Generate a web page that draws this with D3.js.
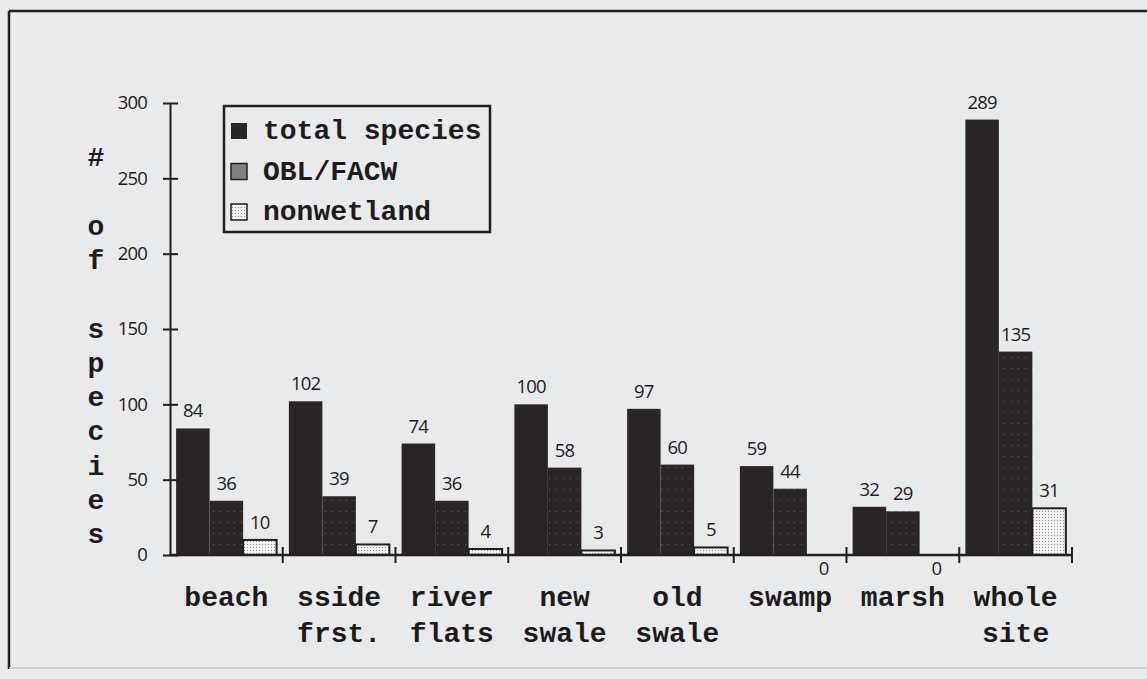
<!DOCTYPE html>
<html>
<head>
<meta charset="utf-8">
<script src="https://cdn.jsdelivr.net/npm/d3@7"></script>
<style>
    body { margin: 0; background: #e9eaec; }
    svg { display: block; }
    .mono { font-family: "Liberation Mono", monospace; font-weight: bold; fill: #1f1b1c; }
    .num { font-family: "Open Sans", sans-serif; fill: #1f1b1c; }
</style>
</head>
<body>
<svg id="chart"></svg>
<script>
// data
const categories = ["beach", "sside frst.", "river flats", "new swale", "old swale", "swamp", "marsh", "whole site"];
const series = ["total species", "OBL/FACW", "nonwetland"];
const totalSpecies = [84, 102, 74, 100, 97, 59, 32, 289];
const oblFacw = [36, 39, 36, 58, 60, 44, 29, 135];
const nonwetland = [10, 7, 4, 3, 5, 0, 0, 31];
const yTicks = [0, 50, 100, 150, 200, 250, 300];
const yTitle = "# of species";

function init() {
    const width = 1147;
    const height = 679;
    const ink = "#231f20";

    const svg = d3.select("#chart")
        .attr("width", width)
        .attr("height", height);

    //patterns for the bar fills
    const defs = svg.append("defs");
    const obl = defs.append("pattern")
        .attr("id", "obl").attr("patternUnits", "userSpaceOnUse")
        .attr("width", 7).attr("height", 11);
    obl.append("rect").attr("width", 7).attr("height", 11).attr("fill", "#2a2527");
    obl.append("rect").attr("x", 3).attr("y", 5).attr("width", 1).attr("height", 1).attr("fill", "#6d6a6b");

    const nonw = defs.append("pattern")
        .attr("id", "nonw").attr("patternUnits", "userSpaceOnUse")
        .attr("width", 3).attr("height", 3);
    nonw.append("rect").attr("width", 3).attr("height", 3).attr("fill", "#f2f2f2");
    nonw.append("rect").attr("x", 1).attr("y", 1).attr("width", 1).attr("height", 1).attr("fill", "#8a8a8a");

    const check = defs.append("pattern")
        .attr("id", "check").attr("patternUnits", "userSpaceOnUse")
        .attr("width", 2).attr("height", 2);
    check.append("rect").attr("width", 2).attr("height", 2).attr("fill", "#4a4648");
    check.append("rect").attr("width", 1).attr("height", 1).attr("fill", "#b8b8b8");
    check.append("rect").attr("x", 1).attr("y", 1).attr("width", 1).attr("height", 1).attr("fill", "#b8b8b8");

    const fills = ["#2a2527", "url(#obl)", "url(#nonw)"];

    //outer frame of the scan
    svg.append("line").attr("x1", 9).attr("x2", width).attr("y1", 11).attr("y2", 11)
        .attr("stroke", ink).attr("stroke-width", 2.5);
    svg.append("line").attr("x1", 9).attr("x2", 9).attr("y1", 11).attr("y2", 669)
        .attr("stroke", ink).attr("stroke-width", 2.5);
    svg.append("line").attr("x1", 9).attr("x2", width).attr("y1", 668).attr("y2", 668)
        .attr("stroke", "#c9cacc").attr("stroke-width", 1.5);

    //scales
    const scaleY = d3.scaleLinear().domain([0, 300]).range([555, 103]);
    const scaleX = d3.scaleBand().domain(categories).range([170, 1072]);
    const scaleS = d3.scaleBand().domain(series).range([0, scaleX.bandwidth()])
        .paddingInner(0).paddingOuter(0.183);

    const values = [totalSpecies, oblFacw, nonwetland];
    const cells = [];
    categories.forEach((c, i) => {
        series.forEach((s, j) => cells.push({ cat: c, ser: s, j: j, v: values[j][i] }));
    });

    //bars
    svg.append("g").selectAll("rect").data(cells.filter(d => d.v > 0)).enter()
        .append("rect")
        .attr("x", d => scaleX(d.cat) + scaleS(d.ser))
        .attr("y", d => scaleY(d.v))
        .attr("width", scaleS.bandwidth())
        .attr("height", d => scaleY(0) - scaleY(d.v))
        .attr("fill", d => fills[d.j])
        .attr("stroke", d => d.j == 2 ? ink : "none")
        .attr("stroke-width", 2);

    //value labels (zero values sit just under the baseline)
    svg.append("g").selectAll("text").data(cells).enter()
        .append("text")
        .attr("class", "num")
        .attr("x", d => scaleX(d.cat) + scaleS(d.ser) + scaleS.bandwidth() / 2)
        .attr("y", d => d.v > 0 ? scaleY(d.v) - 11 : scaleY(0) + 20)
        .attr("text-anchor", "middle")
        .attr("font-size", "18.5px")
        .attr("font-weight", 500)
        .attr("letter-spacing", "-0.8px")
        .text(d => d.v);

    //y axis with ticks crossing the line
    const yAxis = d3.axisLeft(scaleY).tickValues(yTicks).tickSize(7).tickSizeOuter(0).tickPadding(16);
    const gy = svg.append("g")
        .attr("transform", "translate(170,0)")
        .call(yAxis);
    gy.select(".domain").attr("stroke", ink).attr("stroke-width", 2);
    gy.selectAll(".tick line").attr("x1", 8).attr("stroke", ink).attr("stroke-width", 2);
    gy.selectAll(".tick text")
        .attr("class", "num")
        .attr("font-size", "18.5px")
        .attr("font-weight", 500)
        .attr("letter-spacing", "-0.8px")
        .attr("fill", ink);

    //x axis baseline and ticks at category boundaries
    svg.append("line")
        .attr("x1", scaleX.range()[0]).attr("x2", scaleX.range()[1])
        .attr("y1", scaleY(0)).attr("y2", scaleY(0))
        .attr("stroke", ink).attr("stroke-width", 2.5);
    svg.append("g").selectAll("line").data(categories).enter()
        .append("line")
        .attr("x1", d => scaleX(d) + scaleX.bandwidth())
        .attr("x2", d => scaleX(d) + scaleX.bandwidth())
        .attr("y1", scaleY(0) - 8)
        .attr("y2", scaleY(0) + 8)
        .attr("stroke", ink).attr("stroke-width", 2);

    //category labels, two lines
    const catText = svg.append("g").selectAll("text").data(categories).enter()
        .append("text")
        .attr("class", "mono")
        .attr("font-size", "28px")
        .attr("text-anchor", "middle")
        .attr("y", 606);
    catText.selectAll("tspan").data(d => d.split(" ").map(t => [d, t])).enter()
        .append("tspan")
        .attr("x", d => scaleX(d[0]) + scaleX.bandwidth() / 2)
        .attr("dy", (d, i) => i == 0 ? 0 : 36)
        .text(d => d[1]);

    //vertical y title, one character per line
    svg.append("g").selectAll("text").data(yTitle.split("")).enter()
        .append("text")
        .attr("class", "mono")
        .attr("font-size", "28px")
        .attr("text-anchor", "middle")
        .attr("x", 96)
        .attr("y", (d, i) => 166 + i * 34.3)
        .text(d => d);

    //legend
    const legend = svg.append("g");
    legend.append("rect")
        .attr("x", 224).attr("y", 106).attr("width", 266).attr("height", 126)
        .attr("fill", "none").attr("stroke", ink).attr("stroke-width", 2.5);
    const legendFills = ["#2a2527", "url(#check)", "url(#nonw)"];
    const items = legend.selectAll("g").data(series).enter()
        .append("g")
        .attr("transform", (d, i) => `translate(231, ${131 + i * 40.5})`);
    items.append("rect")
        .attr("x", 0).attr("y", -8).attr("width", 16).attr("height", 16)
        .attr("fill", (d, i) => legendFills[i])
        .attr("stroke", (d, i) => i == 0 ? "none" : ink)
        .attr("stroke-width", 1.5);
    items.append("text")
        .attr("class", "mono")
        .attr("font-size", "28px")
        .attr("x", 32)
        .attr("y", 8)
        .text(d => d);
}

window.onload = init;
</script>
</body>
</html>
